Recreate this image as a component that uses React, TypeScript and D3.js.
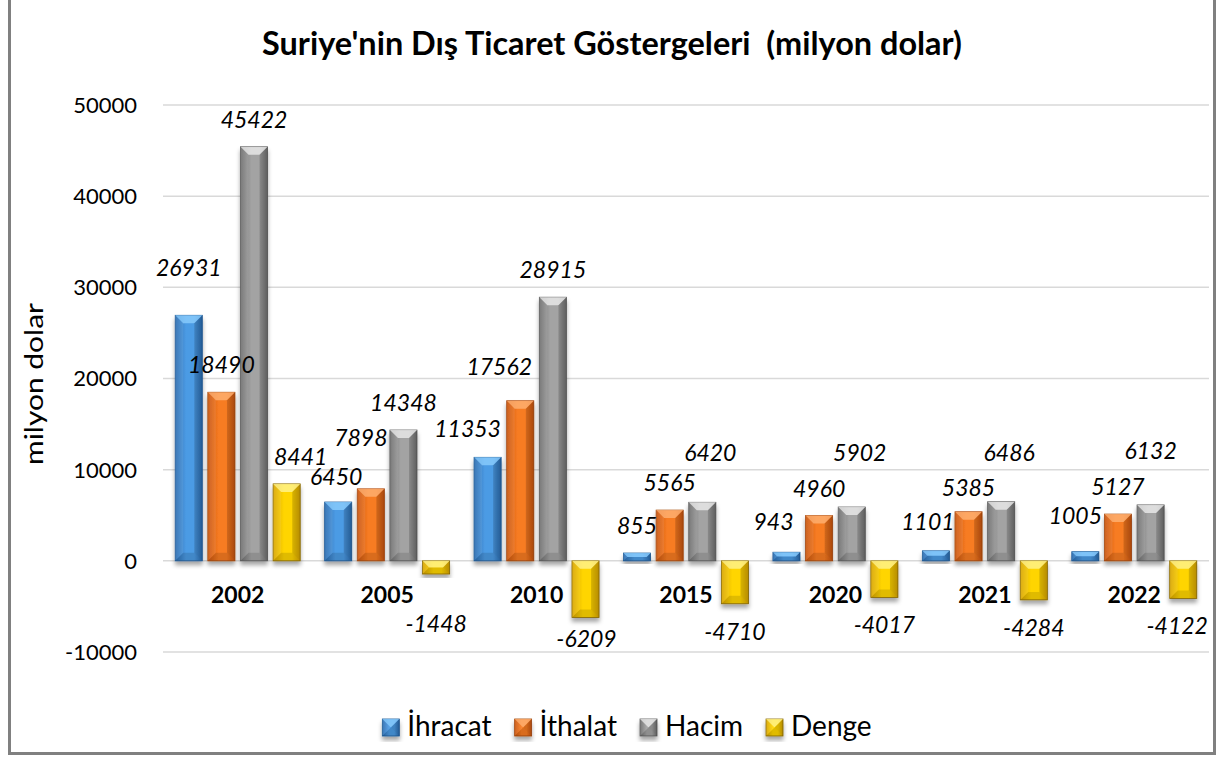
import React, { useEffect, useRef } from 'react';
import * as d3 from 'd3';

const categories = ['2002', '2005', '2010', '2015', '2020', '2021', '2022'];
const seriesNames = ['İhracat', 'İthalat', 'Hacim', 'Denge'];
const ihracat = [26931, 6450, 11353, 855, 943, 1101, 1005];
const ithalat = [18490, 7898, 17562, 5565, 4960, 5385, 5127];
const hacim = [45422, 14348, 28915, 6420, 5902, 6486, 6132];
const denge = [8441, -1448, -6209, -4710, -4017, -4284, -4122];
const yTicks = [-10000, 0, 10000, 20000, 30000, 40000, 50000];
const titleText = "Suriye'nin Dış Ticaret Göstergeleri  (milyon dolar)";
const yAxisTitle = 'milyon dolar';

// label nudges (dx, dy) relative to the default outside-end position
const labelNudges: Record<string, [number, number]> = {
  '2002|İhracat': [0, -20],
  '2002|Denge': [14, 0],
  '2005|İhracat': [-2, 2],
  '2005|İthalat': [-10, -24],
  '2005|Denge': [0, 22],
  '2010|İhracat': [-20, -1],
  '2010|İthalat': [-21, -7],
  '2010|Denge': [1, -6],
  '2015|Hacim': [8, -22],
  '2020|İhracat': [-13, -3],
  '2020|Hacim': [8, -27],
  '2021|İhracat': [-8, -2],
  '2021|İthalat': [0, 3],
  '2021|Hacim': [8, -22],
  '2022|İhracat': [-10, -9],
  '2022|Hacim': [0, -27],
  '2022|Denge': [-6, 0],
};

const palette: Record<string, { edge: string; mid: string; light: string; stroke: string }> = {
  'İhracat': { edge: '#2a6cb0', mid: '#4c9be4', light: '#8fd0ff', stroke: '#1f5a96' },
  'İthalat': { edge: '#c9550e', mid: '#f77b22', light: '#ffb57a', stroke: '#a4460b' },
  'Hacim': { edge: '#6f6f6f', mid: '#a3a3a3', light: '#f0f0f0', stroke: '#5a5a5a' },
  'Denge': { edge: '#d8a500', mid: '#ffd500', light: '#fff59a', stroke: '#8b6b00' },
};

const FONT = 'Lato, "Open Sans", "DejaVu Sans", sans-serif';

export default function App() {
  const ref = useRef<SVGSVGElement | null>(null);

  useEffect(() => {
    const svg = d3.select(ref.current);
    svg.selectAll('*').remove();
    const W = 1219, H = 758;
    const values = [ihracat, ithalat, hacim, denge];

    const defs = svg.append('defs');
    seriesNames.forEach((s, i) => {
      const p = palette[s];
      const g = defs.append('linearGradient').attr('id', `grad${i}`).attr('x1', '0').attr('x2', '1').attr('y1', '0').attr('y2', '0');
      g.append('stop').attr('offset', '0%').attr('stop-color', p.edge);
      g.append('stop').attr('offset', '40%').attr('stop-color', p.mid);
      g.append('stop').attr('offset', '70%').attr('stop-color', p.mid);
      g.append('stop').attr('offset', '100%').attr('stop-color', p.edge);
    });
    const f = defs.append('filter').attr('id', 'shadow').attr('x', '-30%').attr('y', '-30%').attr('width', '160%').attr('height', '160%');
    f.append('feDropShadow').attr('dx', 0).attr('dy', 4).attr('stdDeviation', 2.2).attr('flood-color', '#000').attr('flood-opacity', 0.35);

    svg.append('rect').attr('x', 0).attr('y', 0).attr('width', W).attr('height', H).attr('fill', '#fff');
    // frame
    svg.append('rect').attr('x', 9.5).attr('y', -10).attr('width', 1205).attr('height', 763.5)
      .attr('fill', 'none').attr('stroke', '#808080').attr('stroke-width', 3);

    const plotL = 163, plotR = 1209;
    const x0 = d3.scaleBand<string>().domain(categories).range([plotL, plotR]).paddingInner(0).paddingOuter(0);
    const groupW = 125;
    const x1 = d3.scaleBand<string>().domain(seriesNames).range([0, groupW]).paddingInner(0.17).paddingOuter(0);
    const y = d3.scaleLinear().domain([-10000, 50000]).range([652, 105]);

    // gridlines
    svg.append('g').selectAll('line').data(yTicks).join('line')
      .attr('x1', plotL).attr('x2', plotR)
      .attr('y1', d => y(d)).attr('y2', d => y(d))
      .attr('stroke', '#d9d9d9').attr('stroke-width', 1.5);

    // tick labels
    svg.append('g').selectAll('text').data(yTicks).join('text')
      .attr('x', 137).attr('y', d => y(d)).attr('dy', '0.36em')
      .attr('text-anchor', 'end').attr('font-family', FONT).attr('font-size', 22).attr('fill', '#000')
      .text(d => String(d));

    // y-axis title
    svg.append('text')
      .attr('transform', 'translate(43,384) rotate(-90)')
      .attr('text-anchor', 'middle').attr('font-family', FONT).attr('font-size', 25)
      .attr('textLength', 162).attr('lengthAdjust', 'spacingAndGlyphs')
      .text(yAxisTitle);

    // title
    const title = svg.append('text').attr('x', 612).attr('y', 55).attr('text-anchor', 'middle')
      .attr('font-family', FONT).attr('font-size', 31).attr('font-weight', 'bold')
      .style('white-space', 'pre').text(titleText);
    const tw = (title.node() as SVGTextElement).getComputedTextLength();
    if (tw > 0 && Math.abs(tw - 700) > 20) title.attr('font-size', 31 * 700 / tw);

    const drawBar = (g: any, x: number, yTop: number, w: number, h: number, si: number) => {
      const p = palette[seriesNames[si]];
      const bg = g.append('g').attr('filter', 'url(#shadow)');
      bg.append('rect').attr('x', x).attr('y', yTop).attr('width', w).attr('height', h)
        .attr('fill', `url(#grad${si})`).attr('stroke', p.stroke).attr('stroke-width', 0.8);
      const d = Math.min(8, h / 2, w / 2);
      const pts = (arr: number[][]) => arr.map(a => a.join(',')).join(' ');
      g.append('polygon').attr('points', pts([[x, yTop], [x + w, yTop], [x + w - d, yTop + d], [x + d, yTop + d]]))
        .attr('fill', p.light).attr('opacity', 0.75);
      g.append('polygon').attr('points', pts([[x, yTop + h], [x + w, yTop + h], [x + w - d, yTop + h - d], [x + d, yTop + h - d]]))
        .attr('fill', '#000').attr('opacity', 0.12);
      g.append('polygon').attr('points', pts([[x, yTop], [x + d, yTop + d], [x + d, yTop + h - d], [x, yTop + h]]))
        .attr('fill', '#fff').attr('opacity', 0.08);
      g.append('polygon').attr('points', pts([[x + w, yTop], [x + w - d, yTop + d], [x + w - d, yTop + h - d], [x + w, yTop + h]]))
        .attr('fill', '#000').attr('opacity', 0.15);
    };

    const barsG = svg.append('g');
    const labelsG = svg.append('g');
    categories.forEach((c, ci) => {
      const gx = (x0(c) as number) + (x0.bandwidth() - groupW) / 2;
      seriesNames.forEach((s, si) => {
        const v = values[si][ci];
        const bx = gx + (x1(s) as number);
        const bw = x1.bandwidth();
        const yTop = y(Math.max(v, 0));
        const yBot = y(Math.min(v, 0));
        drawBar(barsG, bx, yTop, bw, Math.max(1, yBot - yTop), si);
        const nudge = labelNudges[`${c}|${s}`] || [0, 0];
        const lx = bx + bw / 2 + nudge[0];
        const ly = (v >= 0 ? yTop - 19 : yBot + 36) + nudge[1];
        labelsG.append('text').attr('x', lx).attr('y', ly).attr('text-anchor', 'middle')
          .attr('font-family', FONT).attr('font-size', 23).attr('font-style', 'italic').attr('fill', '#000')
          .text(String(v));
      });
    });

    // category labels
    svg.append('g').selectAll('text').data(categories).join('text')
      .attr('x', d => (x0(d) as number) + x0.bandwidth() / 2).attr('y', 603)
      .attr('text-anchor', 'middle').attr('font-family', FONT).attr('font-size', 23).attr('font-weight', 'bold')
      .text(d => d);

    // legend
    const lg = svg.append('g');
    const items: { s: number; w: number; t: any }[] = [];
    seriesNames.forEach((s, si) => {
      const t = lg.append('text').attr('y', 736).attr('font-family', FONT).attr('font-size', 28).text(s);
      const w = (t.node() as SVGTextElement).getComputedTextLength();
      items.push({ s: si, w, t });
    });
    const sq = 17, gapT = 8, gapI = 23;
    const total = items.reduce((a, it) => a + sq + gapT + it.w, 0) + gapI * (items.length - 1);
    let cx = 627 - total / 2;
    items.forEach(it => {
      drawBar(lg, cx, 719, sq, sq, it.s);
      it.t.attr('x', cx + sq + gapT);
      cx += sq + gapT + it.w + gapI;
    });
    items.forEach(it => it.t.raise());
  }, []);

  return (
    <svg ref={ref} width={1219} height={758}
      style={{ position: 'absolute', left: 0, top: 0, display: 'block' }} />
  );
}
